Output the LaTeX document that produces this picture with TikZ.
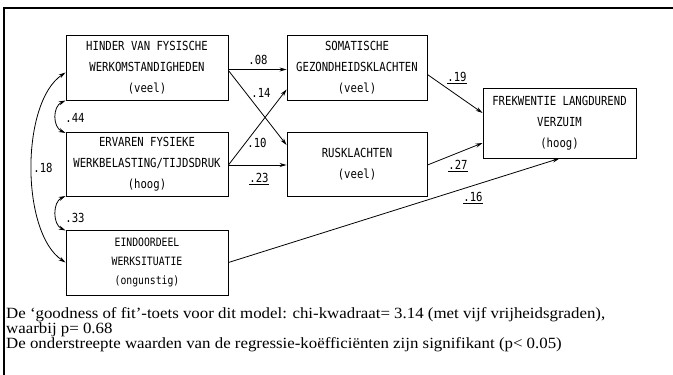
\documentclass[tikz,border=0pt]{standalone}
\usepackage{fontspec}
\setmainfont{Liberation Serif}
\newfontfamily\notefont[FakeStretch=1.08]{Liberation Serif}
\newfontfamily\plotfont[FakeStretch=0.85]{DejaVu Sans Mono}
\usetikzlibrary{arrows.meta}
\begin{document}
\begin{tikzpicture}[x=1pt,y=-1pt,
  box/.style={draw,line width=0.9pt,align=center,font=\plotfont\fontsize{12.5}{21}\selectfont,inner sep=0pt},
  lbl/.style={font=\plotfont\fontsize{12.5}{14}\selectfont,inner sep=1pt},
  arr/.style={line width=0.8pt,-{Stealth[length=7pt,width=4pt]}},
  darr/.style={line width=0.8pt,{Stealth[length=7pt,width=4pt]}-{Stealth[length=7pt,width=4pt]}},
  note/.style={anchor=base west,inner sep=0pt,font=\notefont\fontsize{15.6}{14}\selectfont}]
\useasboundingbox (0,0) rectangle (673,375);
\draw[line width=1.2pt] (673,8) -- (4,8) -- (4,375);
\node[box,minimum width=162pt,minimum height=65pt] (b1) at (147,67.5) {HINDER VAN FYSISCHE\\WERKOMSTANDIGHEDEN\\(veel)};
\node[box,minimum width=162pt,minimum height=64pt] (b2) at (147,164) {ERVAREN FYSIEKE\\WERKBELASTING/TIJDSDRUK\\(hoog)};
\node[box,minimum width=162pt,minimum height=65pt,font=\plotfont\fontsize{11.5}{19}\selectfont] (b3) at (147,262.5) {EINDOORDEEL\\WERKSITUATIE\\(ongunstig)};
\node[box,minimum width=140pt,minimum height=65pt] (b4) at (357,67.5) {SOMATISCHE\\GEZONDHEIDSKLACHTEN\\(veel)};
\node[box,minimum width=140pt,minimum height=64pt] (b5) at (357,164) {RUSKLACHTEN\\(veel)};
\node[box,minimum width=153pt,minimum height=70pt] (b6) at (559.5,123) {FREKWENTIE LANGDUREND\\VERZUIM\\(hoog)};
\draw[arr] ([yshift=-2pt]b1.east) -- ([yshift=-2pt]b4.west);
\draw[arr] ([yshift=-3pt]b1.east) -- ([yshift=19pt]b5.west);
\draw[arr] ([yshift=-1pt]b2.east) -- ([yshift=-22pt]b4.west);
\draw[arr] ([yshift=-1pt]b2.east) -- ([yshift=-1pt]b5.west);
\draw[arr] ([yshift=-7pt]b4.east) -- ([yshift=10pt]b6.west);
\draw[arr] ([yshift=-1pt]b5.east) -- ([yshift=-20pt]b6.west);
\draw[arr] (b3.east) -- (b6.south);
\draw[darr] ([yshift=-33pt]b1.west) .. controls +(-13,6) and +(-13,-6) .. ([yshift=31pt]b2.west);
\draw[darr] ([yshift=-32pt]b2.west) .. controls +(-13,6) and +(-13,-6) .. ([yshift=32pt]b3.west);
\draw[darr] ([yshift=-5pt]b1.west) .. controls +(-45,30) and +(-45,-30) .. (b3.west);
\node[lbl] (l08) at (258,60) {.08};
\node[lbl] (l14) at (261,93) {.14};
\node[lbl] (l10) at (257,143) {.10};
\node[lbl] (l23) at (259,179) {\underline{.23}};
\node[lbl] (l19) at (457,78) {\underline{.19}};
\node[lbl] (l27) at (458,166) {\underline{.27}};
\node[lbl] (l16) at (473,198) {\underline{.16}};
\node[lbl] (l44) at (75,118) {.44};
\node[lbl] (l33) at (75,218) {.33};
\node[lbl] (l18) at (43,168) {.18};
\node[note] (t1) at (6,318) {De ‘goodness of fit’-toets voor dit model: chi-kwadraat= 3.14 (met vijf vrijheidsgraden),};
\node[note] (t2) at (6,333) {waarbij p= 0.68};
\node[note] (t3) at (6,348) {De onderstreepte waarden van de regressie-koëfficiënten zijn signifikant (p< 0.05)};
\end{tikzpicture}
\end{document}
